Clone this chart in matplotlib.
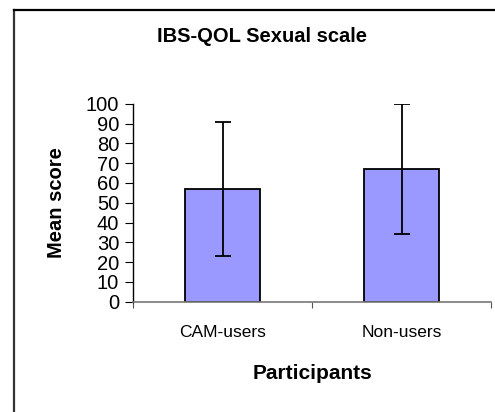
import matplotlib
matplotlib.use("Agg")
import matplotlib.pyplot as plt
from matplotlib.lines import Line2D

groups = ["CAM-users", "Non-users"]
means = [57, 67]
errors = [34, 33]
yticks = [0, 10, 20, 30, 40, 50, 60, 70, 80, 90, 100]

plt.rcParams["font.family"] = ["Liberation Sans", "DejaVu Sans"]

fig = plt.figure(figsize=(4.95, 4.12), dpi=100)
ax = fig.add_axes([133 / 495, 1 - 301.7 / 412, 358 / 495, 198 / 412])

x = list(range(len(groups)))
ax.bar(x, means, width=0.415, color="#9999FF", edgecolor="black", linewidth=1.3, zorder=2)
ax.errorbar(x, means, yerr=errors, fmt="none", ecolor="black", elinewidth=1.3,
            capsize=6, capthick=1.3, zorder=3)

ax.set_xlim(-0.5, 1.5)
ax.set_ylim(0, 100)
ax.set_yticks(yticks)
ax.set_yticklabels([str(v) for v in yticks], fontsize=14.5)
ax.set_xticks([-0.5, 0.5, 1.5], minor=False)
ax.set_xticklabels([])
ax.set_xticks(x, minor=True)
ax.set_xticklabels(groups, minor=True, fontsize=12.5)
ax.tick_params(axis="x", which="minor", length=0, pad=17)
ax.tick_params(axis="x", which="major", length=4, color="#555555", direction="out")
ax.tick_params(axis="y", length=6, color="black", direction="out", pad=4)

for side in ["top", "right"]:
    ax.spines[side].set_visible(False)
ax.spines["left"].set_color("black")
ax.spines["bottom"].set_color("#777777")
ax.spines["left"].set_linewidth(1.0)
ax.spines["bottom"].set_linewidth(1.2)

ax.set_ylabel("Mean score", fontsize=14.5, fontweight="bold", labelpad=14)
ax.set_xlabel("Participants", fontsize=15, fontweight="bold", labelpad=17)
fig.text(262 / 495, 1 - 36 / 412, "IBS-QOL Sexual scale", fontsize=14.5,
         fontweight="bold", ha="center", va="center")

# outer chart frame (left and top edges visible)
fig.add_artist(Line2D([14 / 495, 14 / 495], [0, 1 - 9.5 / 412], transform=fig.transFigure,
                      color="#333333", linewidth=1.6))
fig.add_artist(Line2D([14 / 495, 1], [1 - 9.5 / 412, 1 - 9.5 / 412], transform=fig.transFigure,
                      color="black", linewidth=1.6))

fig.savefig("out.png", dpi=100)
